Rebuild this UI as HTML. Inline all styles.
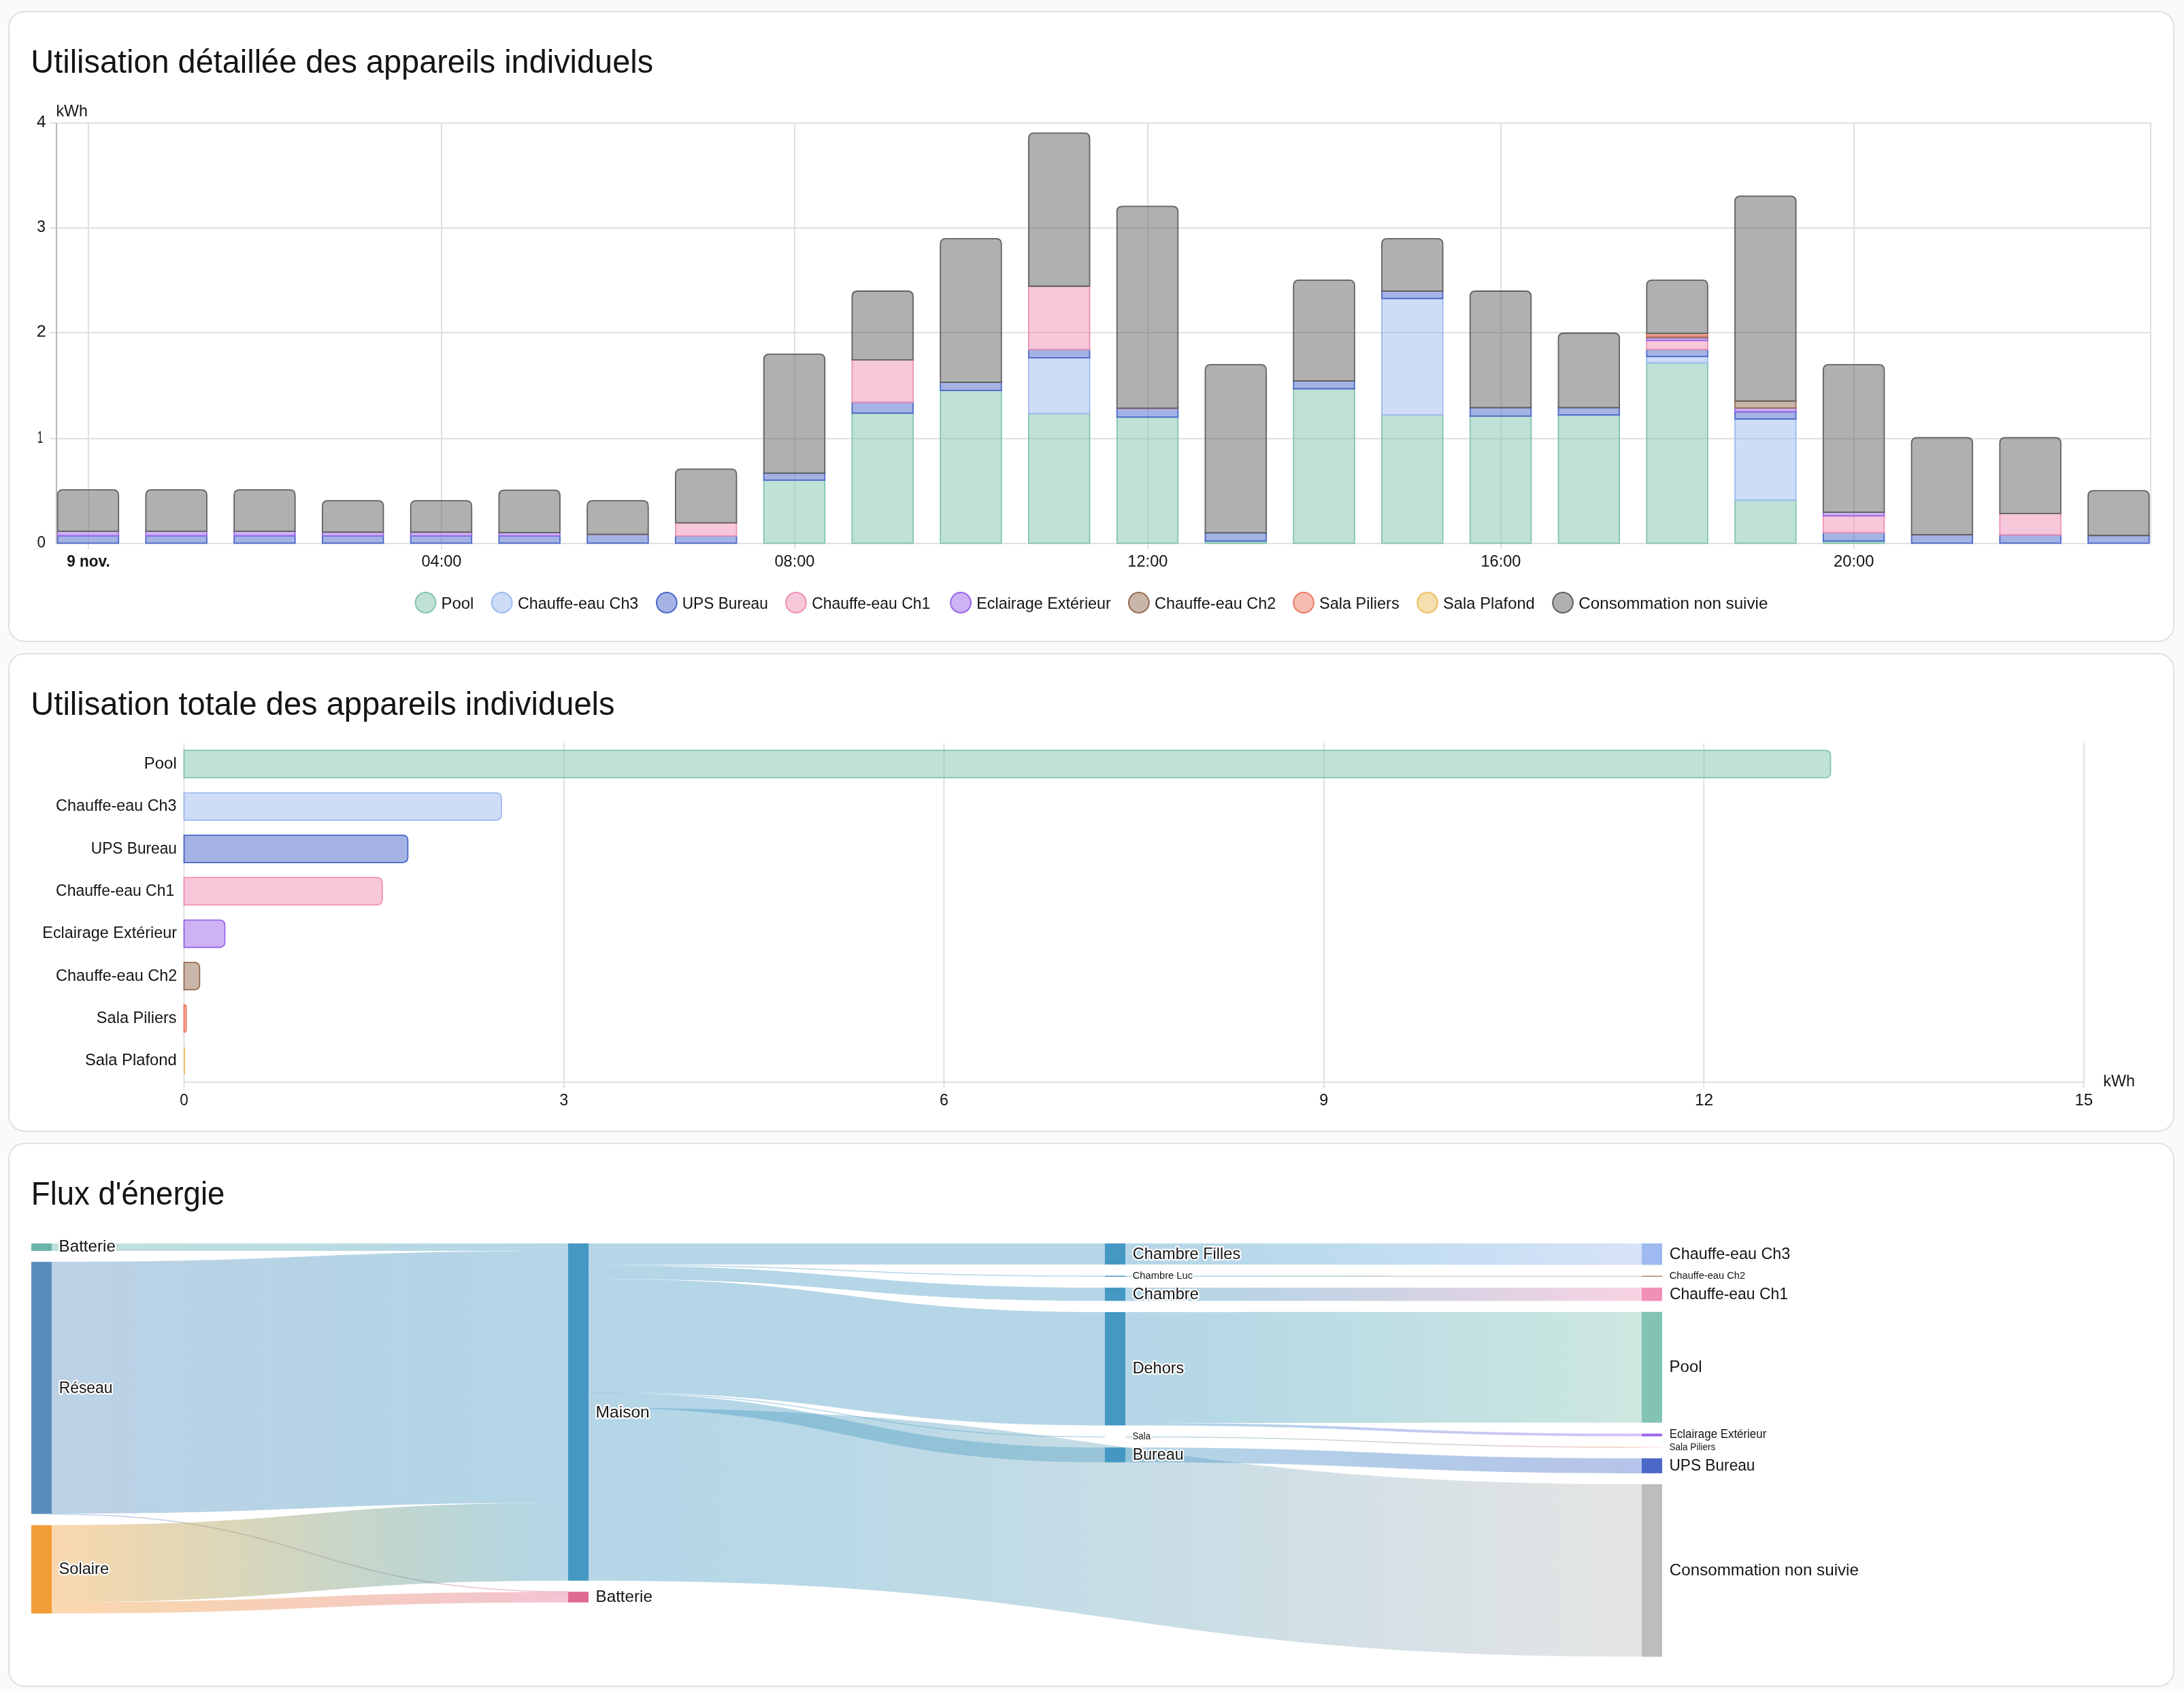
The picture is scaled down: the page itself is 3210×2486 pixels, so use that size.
<!DOCTYPE html>
<html><head><meta charset="utf-8"><title>Energy</title>
<style>html,body{margin:0;padding:0;background:#fafafa;overflow:hidden}svg{display:block;will-change:transform}</style></head>
<body><svg width="3210" height="2486" viewBox="0 0 3210 2486" font-family="'Liberation Sans', sans-serif">
<defs><linearGradient id="g1" gradientUnits="userSpaceOnUse" x1="76.00" y1="0" x2="835.00" y2="0"><stop offset="0.00" stop-color="#6ab4ac"/><stop offset="0.10" stop-color="#65b1ae"/><stop offset="0.20" stop-color="#60aeb0"/><stop offset="0.30" stop-color="#5babb2"/><stop offset="0.40" stop-color="#57a8b5"/><stop offset="0.50" stop-color="#53a6b7"/><stop offset="0.60" stop-color="#4fa3b9"/><stop offset="0.70" stop-color="#4ca0bc"/><stop offset="0.80" stop-color="#499dbe"/><stop offset="0.90" stop-color="#469ac0"/><stop offset="1.00" stop-color="#4498c3"/></linearGradient><linearGradient id="g2" gradientUnits="userSpaceOnUse" x1="76.00" y1="0" x2="835.00" y2="0"><stop offset="0.00" stop-color="#5a8dbe"/><stop offset="0.10" stop-color="#568ebe"/><stop offset="0.20" stop-color="#528fbf"/><stop offset="0.30" stop-color="#4f90bf"/><stop offset="0.40" stop-color="#4c91c0"/><stop offset="0.50" stop-color="#4992c0"/><stop offset="0.60" stop-color="#4793c1"/><stop offset="0.70" stop-color="#4694c1"/><stop offset="0.80" stop-color="#4596c2"/><stop offset="0.90" stop-color="#4497c2"/><stop offset="1.00" stop-color="#4498c3"/></linearGradient><linearGradient id="g3" gradientUnits="userSpaceOnUse" x1="76.00" y1="0" x2="835.00" y2="0"><stop offset="0.00" stop-color="#5a8dbe"/><stop offset="0.10" stop-color="#6489b9"/><stop offset="0.20" stop-color="#6f85b4"/><stop offset="0.30" stop-color="#7c81b0"/><stop offset="0.40" stop-color="#897eab"/><stop offset="0.50" stop-color="#967aa7"/><stop offset="0.60" stop-color="#a576a2"/><stop offset="0.70" stop-color="#b3739e"/><stop offset="0.80" stop-color="#c1709a"/><stop offset="0.90" stop-color="#d06d96"/><stop offset="1.00" stop-color="#df6b92"/></linearGradient><linearGradient id="g4" gradientUnits="userSpaceOnUse" x1="76.00" y1="0" x2="835.00" y2="0"><stop offset="0.00" stop-color="#f19d38"/><stop offset="0.10" stop-color="#da9c3a"/><stop offset="0.20" stop-color="#c49a41"/><stop offset="0.30" stop-color="#ae9a4c"/><stop offset="0.40" stop-color="#999959"/><stop offset="0.50" stop-color="#849869"/><stop offset="0.60" stop-color="#71987a"/><stop offset="0.70" stop-color="#60988c"/><stop offset="0.80" stop-color="#52989e"/><stop offset="0.90" stop-color="#4898b0"/><stop offset="1.00" stop-color="#4498c3"/></linearGradient><linearGradient id="g5" gradientUnits="userSpaceOnUse" x1="76.00" y1="0" x2="835.00" y2="0"><stop offset="0.00" stop-color="#f19d38"/><stop offset="0.10" stop-color="#ef983a"/><stop offset="0.20" stop-color="#ed933d"/><stop offset="0.30" stop-color="#eb8e43"/><stop offset="0.40" stop-color="#ea894c"/><stop offset="0.50" stop-color="#e88455"/><stop offset="0.60" stop-color="#e67f60"/><stop offset="0.70" stop-color="#e47a6c"/><stop offset="0.80" stop-color="#e27578"/><stop offset="0.90" stop-color="#e17085"/><stop offset="1.00" stop-color="#df6b92"/></linearGradient><linearGradient id="g6" gradientUnits="userSpaceOnUse" x1="865.00" y1="0" x2="1624.00" y2="0"><stop offset="0.00" stop-color="#4498c3"/><stop offset="0.10" stop-color="#4498c3"/><stop offset="0.20" stop-color="#4498c3"/><stop offset="0.30" stop-color="#4498c3"/><stop offset="0.40" stop-color="#4498c3"/><stop offset="0.50" stop-color="#4498c3"/><stop offset="0.60" stop-color="#4498c3"/><stop offset="0.70" stop-color="#4498c3"/><stop offset="0.80" stop-color="#4498c3"/><stop offset="0.90" stop-color="#4498c3"/><stop offset="1.00" stop-color="#4498c3"/></linearGradient><linearGradient id="g7" gradientUnits="userSpaceOnUse" x1="865.00" y1="0" x2="1624.00" y2="0"><stop offset="0.00" stop-color="#4498c3"/><stop offset="0.10" stop-color="#4498c3"/><stop offset="0.20" stop-color="#4498c3"/><stop offset="0.30" stop-color="#4498c3"/><stop offset="0.40" stop-color="#4498c3"/><stop offset="0.50" stop-color="#4498c3"/><stop offset="0.60" stop-color="#4498c3"/><stop offset="0.70" stop-color="#4498c3"/><stop offset="0.80" stop-color="#4498c3"/><stop offset="0.90" stop-color="#4498c3"/><stop offset="1.00" stop-color="#4498c3"/></linearGradient><linearGradient id="g8" gradientUnits="userSpaceOnUse" x1="865.00" y1="0" x2="1624.00" y2="0"><stop offset="0.00" stop-color="#4498c3"/><stop offset="0.10" stop-color="#4498c3"/><stop offset="0.20" stop-color="#4498c3"/><stop offset="0.30" stop-color="#4498c3"/><stop offset="0.40" stop-color="#4498c3"/><stop offset="0.50" stop-color="#4498c3"/><stop offset="0.60" stop-color="#4498c3"/><stop offset="0.70" stop-color="#4498c3"/><stop offset="0.80" stop-color="#4498c3"/><stop offset="0.90" stop-color="#4498c3"/><stop offset="1.00" stop-color="#4498c3"/></linearGradient><linearGradient id="g9" gradientUnits="userSpaceOnUse" x1="865.00" y1="0" x2="1624.00" y2="0"><stop offset="0.00" stop-color="#4498c3"/><stop offset="0.10" stop-color="#4498c3"/><stop offset="0.20" stop-color="#4498c3"/><stop offset="0.30" stop-color="#4498c3"/><stop offset="0.40" stop-color="#4498c3"/><stop offset="0.50" stop-color="#4498c3"/><stop offset="0.60" stop-color="#4498c3"/><stop offset="0.70" stop-color="#4498c3"/><stop offset="0.80" stop-color="#4498c3"/><stop offset="0.90" stop-color="#4498c3"/><stop offset="1.00" stop-color="#4498c3"/></linearGradient><linearGradient id="g10" gradientUnits="userSpaceOnUse" x1="865.00" y1="0" x2="1624.00" y2="0"><stop offset="0.00" stop-color="#4498c3"/><stop offset="0.10" stop-color="#4498c3"/><stop offset="0.20" stop-color="#4498c3"/><stop offset="0.30" stop-color="#4498c3"/><stop offset="0.40" stop-color="#4498c3"/><stop offset="0.50" stop-color="#4498c3"/><stop offset="0.60" stop-color="#4498c3"/><stop offset="0.70" stop-color="#4498c3"/><stop offset="0.80" stop-color="#4498c3"/><stop offset="0.90" stop-color="#4498c3"/><stop offset="1.00" stop-color="#4498c3"/></linearGradient><linearGradient id="g11" gradientUnits="userSpaceOnUse" x1="865.00" y1="0" x2="1624.00" y2="0"><stop offset="0.00" stop-color="#4498c3"/><stop offset="0.10" stop-color="#4498c3"/><stop offset="0.20" stop-color="#4498c3"/><stop offset="0.30" stop-color="#4498c3"/><stop offset="0.40" stop-color="#4498c3"/><stop offset="0.50" stop-color="#4498c3"/><stop offset="0.60" stop-color="#4498c3"/><stop offset="0.70" stop-color="#4498c3"/><stop offset="0.80" stop-color="#4498c3"/><stop offset="0.90" stop-color="#4498c3"/><stop offset="1.00" stop-color="#4498c3"/></linearGradient><linearGradient id="g12" gradientUnits="userSpaceOnUse" x1="865.00" y1="0" x2="2413.00" y2="0"><stop offset="0.00" stop-color="#4498c3"/><stop offset="0.10" stop-color="#489bc2"/><stop offset="0.20" stop-color="#4f9fc1"/><stop offset="0.30" stop-color="#59a2c1"/><stop offset="0.40" stop-color="#64a6c0"/><stop offset="0.50" stop-color="#71aabf"/><stop offset="0.60" stop-color="#7fadbf"/><stop offset="0.70" stop-color="#8eb1be"/><stop offset="0.80" stop-color="#9db5be"/><stop offset="0.90" stop-color="#adb9bd"/><stop offset="1.00" stop-color="#bdbdbd"/></linearGradient><linearGradient id="g13" gradientUnits="userSpaceOnUse" x1="1654.00" y1="0" x2="2413.00" y2="0"><stop offset="0.00" stop-color="#4498c3"/><stop offset="0.10" stop-color="#489bc7"/><stop offset="0.20" stop-color="#4d9ecc"/><stop offset="0.30" stop-color="#54a2d0"/><stop offset="0.40" stop-color="#5ca5d5"/><stop offset="0.50" stop-color="#65a8d9"/><stop offset="0.60" stop-color="#6facde"/><stop offset="0.70" stop-color="#7aafe2"/><stop offset="0.80" stop-color="#86b3e7"/><stop offset="0.90" stop-color="#92b6ec"/><stop offset="1.00" stop-color="#9ebaf0"/></linearGradient><linearGradient id="g14" gradientUnits="userSpaceOnUse" x1="1654.00" y1="0" x2="2413.00" y2="0"><stop offset="0.00" stop-color="#4498c3"/><stop offset="0.10" stop-color="#4493b7"/><stop offset="0.20" stop-color="#468fac"/><stop offset="0.30" stop-color="#4b8aa0"/><stop offset="0.40" stop-color="#518695"/><stop offset="0.50" stop-color="#5a8189"/><stop offset="0.60" stop-color="#647d7e"/><stop offset="0.70" stop-color="#6f7973"/><stop offset="0.80" stop-color="#7b7568"/><stop offset="0.90" stop-color="#88715d"/><stop offset="1.00" stop-color="#956d53"/></linearGradient><linearGradient id="g15" gradientUnits="userSpaceOnUse" x1="1654.00" y1="0" x2="2413.00" y2="0"><stop offset="0.00" stop-color="#4498c3"/><stop offset="0.10" stop-color="#4896c1"/><stop offset="0.20" stop-color="#5195c0"/><stop offset="0.30" stop-color="#5f93be"/><stop offset="0.40" stop-color="#7092bd"/><stop offset="0.50" stop-color="#8391bb"/><stop offset="0.60" stop-color="#9891ba"/><stop offset="0.70" stop-color="#ad90b9"/><stop offset="0.80" stop-color="#c390b8"/><stop offset="0.90" stop-color="#d990b7"/><stop offset="1.00" stop-color="#f090b6"/></linearGradient><linearGradient id="g16" gradientUnits="userSpaceOnUse" x1="1654.00" y1="0" x2="2413.00" y2="0"><stop offset="0.00" stop-color="#4498c3"/><stop offset="0.10" stop-color="#479cc1"/><stop offset="0.20" stop-color="#4ba0bf"/><stop offset="0.30" stop-color="#50a4bd"/><stop offset="0.40" stop-color="#56a9bb"/><stop offset="0.50" stop-color="#5cadb9"/><stop offset="0.60" stop-color="#63b1b8"/><stop offset="0.70" stop-color="#6ab6b6"/><stop offset="0.80" stop-color="#72bab4"/><stop offset="0.90" stop-color="#7abeb2"/><stop offset="1.00" stop-color="#82c3b1"/></linearGradient><linearGradient id="g17" gradientUnits="userSpaceOnUse" x1="1654.00" y1="0" x2="2413.00" y2="0"><stop offset="0.00" stop-color="#4498c3"/><stop offset="0.10" stop-color="#4492c6"/><stop offset="0.20" stop-color="#468dca"/><stop offset="0.30" stop-color="#4b88ce"/><stop offset="0.40" stop-color="#5282d2"/><stop offset="0.50" stop-color="#5c7dd6"/><stop offset="0.60" stop-color="#6778da"/><stop offset="0.70" stop-color="#7373de"/><stop offset="0.80" stop-color="#806fe2"/><stop offset="0.90" stop-color="#8d6ae6"/><stop offset="1.00" stop-color="#9b66ea"/></linearGradient><linearGradient id="g18" gradientUnits="userSpaceOnUse" x1="1654.00" y1="0" x2="2413.00" y2="0"><stop offset="0.00" stop-color="#4498c3"/><stop offset="0.10" stop-color="#4794b8"/><stop offset="0.20" stop-color="#4f90ae"/><stop offset="0.30" stop-color="#5c8ca4"/><stop offset="0.40" stop-color="#6d899a"/><stop offset="0.50" stop-color="#818690"/><stop offset="0.60" stop-color="#958387"/><stop offset="0.70" stop-color="#ab807d"/><stop offset="0.80" stop-color="#c17e74"/><stop offset="0.90" stop-color="#d77c6c"/><stop offset="1.00" stop-color="#ee7a64"/></linearGradient><linearGradient id="g19" gradientUnits="userSpaceOnUse" x1="1654.00" y1="0" x2="2413.00" y2="0"><stop offset="0.00" stop-color="#4498c3"/><stop offset="0.10" stop-color="#4293c3"/><stop offset="0.20" stop-color="#418ec4"/><stop offset="0.30" stop-color="#4089c4"/><stop offset="0.40" stop-color="#4084c5"/><stop offset="0.50" stop-color="#4080c6"/><stop offset="0.60" stop-color="#417bc6"/><stop offset="0.70" stop-color="#4376c7"/><stop offset="0.80" stop-color="#4571c8"/><stop offset="0.90" stop-color="#486dc9"/><stop offset="1.00" stop-color="#4b68c9"/></linearGradient></defs>
<rect x="0" y="0" width="3210" height="2486" fill="#fafafa"/>
<rect x="13" y="17" width="3182" height="926" rx="23" ry="23" fill="#ffffff" stroke="#e0e0e0" stroke-width="2"/>
<rect x="13" y="961" width="3182" height="702" rx="23" ry="23" fill="#ffffff" stroke="#e0e0e0" stroke-width="2"/>
<rect x="13" y="1681" width="3182" height="798" rx="23" ry="23" fill="#ffffff" stroke="#e0e0e0" stroke-width="2"/>
<text x="45.37" y="106.60" font-size="48.96" textLength="914.75" lengthAdjust="spacingAndGlyphs" fill="#141414">Utilisation détaillée des appareils individuels</text>
<text x="45.35" y="1050.80" font-size="48.96" textLength="858.23" lengthAdjust="spacingAndGlyphs" fill="#141414">Utilisation totale des appareils individuels</text>
<text x="45.84" y="1770.90" font-size="48.96" textLength="284.50" lengthAdjust="spacingAndGlyphs" fill="#141414">Flux d&#39;énergie</text>
<line x1="73.50" y1="645.00" x2="3161.00" y2="645.00" stroke="#e0e0e0" stroke-width="2"/>
<line x1="73.50" y1="489.00" x2="3161.00" y2="489.00" stroke="#e0e0e0" stroke-width="2"/>
<line x1="73.50" y1="335.00" x2="3161.00" y2="335.00" stroke="#e0e0e0" stroke-width="2"/>
<line x1="73.50" y1="181.00" x2="3161.00" y2="181.00" stroke="#e0e0e0" stroke-width="2"/>
<line x1="83.00" y1="799.00" x2="3161.00" y2="799.00" stroke="#e0e0e0" stroke-width="2"/>
<line x1="129.90" y1="181.00" x2="129.90" y2="807.50" stroke="#e0e0e0" stroke-width="2"/>
<line x1="648.94" y1="181.00" x2="648.94" y2="807.50" stroke="#e0e0e0" stroke-width="2"/>
<line x1="1167.98" y1="181.00" x2="1167.98" y2="807.50" stroke="#e0e0e0" stroke-width="2"/>
<line x1="1687.02" y1="181.00" x2="1687.02" y2="807.50" stroke="#e0e0e0" stroke-width="2"/>
<line x1="2206.06" y1="181.00" x2="2206.06" y2="807.50" stroke="#e0e0e0" stroke-width="2"/>
<line x1="2725.10" y1="181.00" x2="2725.10" y2="807.50" stroke="#e0e0e0" stroke-width="2"/>
<line x1="3161.00" y1="181.00" x2="3161.00" y2="799.00" stroke="#e0e0e0" stroke-width="2"/>
<rect x="84.60" y="787.69" width="89.60" height="10.81" fill="#4b68c9" fill-opacity="0.5" stroke="#4b68c9" stroke-width="1.8"/>
<rect x="84.60" y="781.06" width="89.60" height="6.64" fill="#9b66ea" fill-opacity="0.5" stroke="#9b66ea" stroke-width="1.8"/>
<path d="M84.60,781.06 L84.60,728.08 Q84.60,720.08 92.60,720.08 L166.20,720.08 Q174.20,720.08 174.20,728.08 L174.20,781.06 Z" fill="#616161" fill-opacity="0.5" stroke="#616161" stroke-width="1.8"/>
<rect x="214.36" y="787.69" width="89.60" height="10.81" fill="#4b68c9" fill-opacity="0.5" stroke="#4b68c9" stroke-width="1.8"/>
<rect x="214.36" y="781.06" width="89.60" height="6.64" fill="#9b66ea" fill-opacity="0.5" stroke="#9b66ea" stroke-width="1.8"/>
<path d="M214.36,781.06 L214.36,728.08 Q214.36,720.08 222.36,720.08 L295.96,720.08 Q303.96,720.08 303.96,728.08 L303.96,781.06 Z" fill="#616161" fill-opacity="0.5" stroke="#616161" stroke-width="1.8"/>
<rect x="344.12" y="787.69" width="89.60" height="10.81" fill="#4b68c9" fill-opacity="0.5" stroke="#4b68c9" stroke-width="1.8"/>
<rect x="344.12" y="781.06" width="89.60" height="6.64" fill="#9b66ea" fill-opacity="0.5" stroke="#9b66ea" stroke-width="1.8"/>
<path d="M344.12,781.06 L344.12,728.08 Q344.12,720.08 352.12,720.08 L425.72,720.08 Q433.72,720.08 433.72,728.08 L433.72,781.06 Z" fill="#616161" fill-opacity="0.5" stroke="#616161" stroke-width="1.8"/>
<rect x="473.88" y="787.85" width="89.60" height="10.65" fill="#4b68c9" fill-opacity="0.5" stroke="#4b68c9" stroke-width="1.8"/>
<rect x="473.88" y="782.29" width="89.60" height="5.56" fill="#9b66ea" fill-opacity="0.5" stroke="#9b66ea" stroke-width="1.8"/>
<path d="M473.88,782.29 L473.88,744.13 Q473.88,736.13 481.88,736.13 L555.48,736.13 Q563.48,736.13 563.48,744.13 L563.48,782.29 Z" fill="#616161" fill-opacity="0.5" stroke="#616161" stroke-width="1.8"/>
<rect x="603.64" y="787.85" width="89.60" height="10.65" fill="#4b68c9" fill-opacity="0.5" stroke="#4b68c9" stroke-width="1.8"/>
<rect x="603.64" y="782.29" width="89.60" height="5.56" fill="#9b66ea" fill-opacity="0.5" stroke="#9b66ea" stroke-width="1.8"/>
<path d="M603.64,782.29 L603.64,744.13 Q603.64,736.13 611.64,736.13 L685.24,736.13 Q693.24,736.13 693.24,744.13 L693.24,782.29 Z" fill="#616161" fill-opacity="0.5" stroke="#616161" stroke-width="1.8"/>
<rect x="733.40" y="787.85" width="89.60" height="10.65" fill="#4b68c9" fill-opacity="0.5" stroke="#4b68c9" stroke-width="1.8"/>
<rect x="733.40" y="783.06" width="89.60" height="4.79" fill="#9b66ea" fill-opacity="0.5" stroke="#9b66ea" stroke-width="1.8"/>
<path d="M733.40,783.06 L733.40,728.69 Q733.40,720.69 741.40,720.69 L815.00,720.69 Q823.00,720.69 823.00,728.69 L823.00,783.06 Z" fill="#616161" fill-opacity="0.5" stroke="#616161" stroke-width="1.8"/>
<rect x="863.16" y="785.84" width="89.60" height="12.66" fill="#4b68c9" fill-opacity="0.5" stroke="#4b68c9" stroke-width="1.8"/>
<rect x="863.16" y="785.53" width="89.60" height="0.31" fill="#f090b6" fill-opacity="0.5" stroke="#f090b6" stroke-width="1.8"/>
<path d="M863.16,785.53 L863.16,744.13 Q863.16,736.13 871.16,736.13 L944.76,736.13 Q952.76,736.13 952.76,744.13 L952.76,785.53 Z" fill="#616161" fill-opacity="0.5" stroke="#616161" stroke-width="1.8"/>
<rect x="992.92" y="787.85" width="89.60" height="10.65" fill="#4b68c9" fill-opacity="0.5" stroke="#4b68c9" stroke-width="1.8"/>
<rect x="992.92" y="768.71" width="89.60" height="19.14" fill="#f090b6" fill-opacity="0.5" stroke="#f090b6" stroke-width="1.8"/>
<path d="M992.92,768.71 L992.92,697.67 Q992.92,689.67 1000.92,689.67 L1074.52,689.67 Q1082.52,689.67 1082.52,697.67 L1082.52,768.71 Z" fill="#616161" fill-opacity="0.5" stroke="#616161" stroke-width="1.8"/>
<rect x="1122.68" y="705.88" width="89.60" height="92.62" fill="#82c3b1" fill-opacity="0.5" stroke="#82c3b1" stroke-width="1.8"/>
<rect x="1122.68" y="695.53" width="89.60" height="10.34" fill="#4b68c9" fill-opacity="0.5" stroke="#4b68c9" stroke-width="1.8"/>
<path d="M1122.68,695.53 L1122.68,528.62 Q1122.68,520.62 1130.68,520.62 L1204.28,520.62 Q1212.28,520.62 1212.28,528.62 L1212.28,695.53 Z" fill="#616161" fill-opacity="0.5" stroke="#616161" stroke-width="1.8"/>
<rect x="1252.44" y="607.38" width="89.60" height="191.12" fill="#82c3b1" fill-opacity="0.5" stroke="#82c3b1" stroke-width="1.8"/>
<rect x="1252.44" y="591.48" width="89.60" height="15.90" fill="#4b68c9" fill-opacity="0.5" stroke="#4b68c9" stroke-width="1.8"/>
<rect x="1252.44" y="529.12" width="89.60" height="62.37" fill="#f090b6" fill-opacity="0.5" stroke="#f090b6" stroke-width="1.8"/>
<path d="M1252.44,529.12 L1252.44,436.00 Q1252.44,428.00 1260.44,428.00 L1334.04,428.00 Q1342.04,428.00 1342.04,436.00 L1342.04,529.12 Z" fill="#616161" fill-opacity="0.5" stroke="#616161" stroke-width="1.8"/>
<rect x="1382.20" y="574.04" width="89.60" height="224.46" fill="#82c3b1" fill-opacity="0.5" stroke="#82c3b1" stroke-width="1.8"/>
<rect x="1382.20" y="562.00" width="89.60" height="12.04" fill="#4b68c9" fill-opacity="0.5" stroke="#4b68c9" stroke-width="1.8"/>
<path d="M1382.20,562.00 L1382.20,358.81 Q1382.20,350.81 1390.20,350.81 L1463.80,350.81 Q1471.80,350.81 1471.80,358.81 L1471.80,562.00 Z" fill="#616161" fill-opacity="0.5" stroke="#616161" stroke-width="1.8"/>
<rect x="1511.96" y="608.16" width="89.60" height="190.34" fill="#82c3b1" fill-opacity="0.5" stroke="#82c3b1" stroke-width="1.8"/>
<rect x="1511.96" y="526.03" width="89.60" height="82.13" fill="#9ebaf0" fill-opacity="0.5" stroke="#9ebaf0" stroke-width="1.8"/>
<rect x="1511.96" y="513.83" width="89.60" height="12.20" fill="#4b68c9" fill-opacity="0.5" stroke="#4b68c9" stroke-width="1.8"/>
<rect x="1511.96" y="420.74" width="89.60" height="93.09" fill="#f090b6" fill-opacity="0.5" stroke="#f090b6" stroke-width="1.8"/>
<path d="M1511.96,420.74 L1511.96,203.67 Q1511.96,195.67 1519.96,195.67 L1593.56,195.67 Q1601.56,195.67 1601.56,203.67 L1601.56,420.74 Z" fill="#616161" fill-opacity="0.5" stroke="#616161" stroke-width="1.8"/>
<rect x="1641.72" y="613.25" width="89.60" height="185.25" fill="#82c3b1" fill-opacity="0.5" stroke="#82c3b1" stroke-width="1.8"/>
<rect x="1641.72" y="600.59" width="89.60" height="12.66" fill="#4b68c9" fill-opacity="0.5" stroke="#4b68c9" stroke-width="1.8"/>
<rect x="1641.72" y="600.13" width="89.60" height="0.46" fill="#f090b6" fill-opacity="0.5" stroke="#f090b6" stroke-width="1.8"/>
<path d="M1641.72,600.13 L1641.72,311.42 Q1641.72,303.42 1649.72,303.42 L1723.32,303.42 Q1731.32,303.42 1731.32,311.42 L1731.32,600.13 Z" fill="#616161" fill-opacity="0.5" stroke="#616161" stroke-width="1.8"/>
<rect x="1771.48" y="795.41" width="89.60" height="3.09" fill="#82c3b1" fill-opacity="0.5" stroke="#82c3b1" stroke-width="1.8"/>
<rect x="1771.48" y="783.37" width="89.60" height="12.04" fill="#4b68c9" fill-opacity="0.5" stroke="#4b68c9" stroke-width="1.8"/>
<path d="M1771.48,783.37 L1771.48,544.06 Q1771.48,536.06 1779.48,536.06 L1853.08,536.06 Q1861.08,536.06 1861.08,544.06 L1861.08,783.37 Z" fill="#616161" fill-opacity="0.5" stroke="#616161" stroke-width="1.8"/>
<rect x="1901.24" y="571.57" width="89.60" height="226.93" fill="#82c3b1" fill-opacity="0.5" stroke="#82c3b1" stroke-width="1.8"/>
<rect x="1901.24" y="559.99" width="89.60" height="11.58" fill="#4b68c9" fill-opacity="0.5" stroke="#4b68c9" stroke-width="1.8"/>
<path d="M1901.24,559.99 L1901.24,419.79 Q1901.24,411.79 1909.24,411.79 L1982.84,411.79 Q1990.84,411.79 1990.84,419.79 L1990.84,559.99 Z" fill="#616161" fill-opacity="0.5" stroke="#616161" stroke-width="1.8"/>
<rect x="2031.00" y="610.16" width="89.60" height="188.34" fill="#82c3b1" fill-opacity="0.5" stroke="#82c3b1" stroke-width="1.8"/>
<rect x="2031.00" y="438.81" width="89.60" height="171.36" fill="#9ebaf0" fill-opacity="0.5" stroke="#9ebaf0" stroke-width="1.8"/>
<rect x="2031.00" y="428.00" width="89.60" height="10.81" fill="#4b68c9" fill-opacity="0.5" stroke="#4b68c9" stroke-width="1.8"/>
<path d="M2031.00,428.00 L2031.00,358.81 Q2031.00,350.81 2039.00,350.81 L2112.60,350.81 Q2120.60,350.81 2120.60,358.81 L2120.60,428.00 Z" fill="#616161" fill-opacity="0.5" stroke="#616161" stroke-width="1.8"/>
<rect x="2160.76" y="611.71" width="89.60" height="186.79" fill="#82c3b1" fill-opacity="0.5" stroke="#82c3b1" stroke-width="1.8"/>
<rect x="2160.76" y="599.36" width="89.60" height="12.35" fill="#4b68c9" fill-opacity="0.5" stroke="#4b68c9" stroke-width="1.8"/>
<path d="M2160.76,599.36 L2160.76,436.00 Q2160.76,428.00 2168.76,428.00 L2242.36,428.00 Q2250.36,428.00 2250.36,436.00 L2250.36,599.36 Z" fill="#616161" fill-opacity="0.5" stroke="#616161" stroke-width="1.8"/>
<rect x="2290.52" y="610.16" width="89.60" height="188.34" fill="#82c3b1" fill-opacity="0.5" stroke="#82c3b1" stroke-width="1.8"/>
<rect x="2290.52" y="599.36" width="89.60" height="10.81" fill="#4b68c9" fill-opacity="0.5" stroke="#4b68c9" stroke-width="1.8"/>
<path d="M2290.52,599.36 L2290.52,497.75 Q2290.52,489.75 2298.52,489.75 L2372.12,489.75 Q2380.12,489.75 2380.12,497.75 L2380.12,599.36 Z" fill="#616161" fill-opacity="0.5" stroke="#616161" stroke-width="1.8"/>
<rect x="2420.28" y="533.59" width="89.60" height="264.91" fill="#82c3b1" fill-opacity="0.5" stroke="#82c3b1" stroke-width="1.8"/>
<rect x="2420.28" y="524.18" width="89.60" height="9.42" fill="#9ebaf0" fill-opacity="0.5" stroke="#9ebaf0" stroke-width="1.8"/>
<rect x="2420.28" y="513.83" width="89.60" height="10.34" fill="#4b68c9" fill-opacity="0.5" stroke="#4b68c9" stroke-width="1.8"/>
<rect x="2420.28" y="500.56" width="89.60" height="13.28" fill="#f090b6" fill-opacity="0.5" stroke="#f090b6" stroke-width="1.8"/>
<rect x="2420.28" y="496.54" width="89.60" height="4.01" fill="#9b66ea" fill-opacity="0.5" stroke="#9b66ea" stroke-width="1.8"/>
<rect x="2420.28" y="493.92" width="89.60" height="2.62" fill="#956d53" fill-opacity="0.5" stroke="#956d53" stroke-width="1.8"/>
<rect x="2420.28" y="490.37" width="89.60" height="3.55" fill="#ee7a64" fill-opacity="0.5" stroke="#ee7a64" stroke-width="1.8"/>
<path d="M2420.28,490.37 L2420.28,419.79 Q2420.28,411.79 2428.28,411.79 L2501.88,411.79 Q2509.88,411.79 2509.88,419.79 L2509.88,490.37 Z" fill="#616161" fill-opacity="0.5" stroke="#616161" stroke-width="1.8"/>
<rect x="2550.04" y="735.36" width="89.60" height="63.14" fill="#82c3b1" fill-opacity="0.5" stroke="#82c3b1" stroke-width="1.8"/>
<rect x="2550.04" y="616.03" width="89.60" height="119.33" fill="#9ebaf0" fill-opacity="0.5" stroke="#9ebaf0" stroke-width="1.8"/>
<rect x="2550.04" y="605.53" width="89.60" height="10.50" fill="#4b68c9" fill-opacity="0.5" stroke="#4b68c9" stroke-width="1.8"/>
<rect x="2550.04" y="599.82" width="89.60" height="5.71" fill="#9b66ea" fill-opacity="0.5" stroke="#9b66ea" stroke-width="1.8"/>
<rect x="2550.04" y="589.63" width="89.60" height="10.19" fill="#956d53" fill-opacity="0.5" stroke="#956d53" stroke-width="1.8"/>
<path d="M2550.04,589.63 L2550.04,296.29 Q2550.04,288.29 2558.04,288.29 L2631.64,288.29 Q2639.64,288.29 2639.64,296.29 L2639.64,589.63 Z" fill="#616161" fill-opacity="0.5" stroke="#616161" stroke-width="1.8"/>
<rect x="2679.80" y="795.41" width="89.60" height="3.09" fill="#82c3b1" fill-opacity="0.5" stroke="#82c3b1" stroke-width="1.8"/>
<rect x="2679.80" y="783.06" width="89.60" height="12.35" fill="#4b68c9" fill-opacity="0.5" stroke="#4b68c9" stroke-width="1.8"/>
<rect x="2679.80" y="758.36" width="89.60" height="24.70" fill="#f090b6" fill-opacity="0.5" stroke="#f090b6" stroke-width="1.8"/>
<rect x="2679.80" y="753.11" width="89.60" height="5.25" fill="#9b66ea" fill-opacity="0.5" stroke="#9b66ea" stroke-width="1.8"/>
<path d="M2679.80,753.11 L2679.80,544.06 Q2679.80,536.06 2687.80,536.06 L2761.40,536.06 Q2769.40,536.06 2769.40,544.06 L2769.40,753.11 Z" fill="#616161" fill-opacity="0.5" stroke="#616161" stroke-width="1.8"/>
<rect x="2809.56" y="786.46" width="89.60" height="12.04" fill="#4b68c9" fill-opacity="0.5" stroke="#4b68c9" stroke-width="1.8"/>
<rect x="2809.56" y="786.00" width="89.60" height="0.46" fill="#f090b6" fill-opacity="0.5" stroke="#f090b6" stroke-width="1.8"/>
<path d="M2809.56,786.00 L2809.56,651.35 Q2809.56,643.35 2817.56,643.35 L2891.16,643.35 Q2899.16,643.35 2899.16,651.35 L2899.16,786.00 Z" fill="#616161" fill-opacity="0.5" stroke="#616161" stroke-width="1.8"/>
<rect x="2939.32" y="786.46" width="89.60" height="12.04" fill="#4b68c9" fill-opacity="0.5" stroke="#4b68c9" stroke-width="1.8"/>
<rect x="2939.32" y="754.97" width="89.60" height="31.49" fill="#f090b6" fill-opacity="0.5" stroke="#f090b6" stroke-width="1.8"/>
<path d="M2939.32,754.97 L2939.32,651.35 Q2939.32,643.35 2947.32,643.35 L3020.92,643.35 Q3028.92,643.35 3028.92,651.35 L3028.92,754.97 Z" fill="#616161" fill-opacity="0.5" stroke="#616161" stroke-width="1.8"/>
<rect x="3069.08" y="787.23" width="89.60" height="11.27" fill="#4b68c9" fill-opacity="0.5" stroke="#4b68c9" stroke-width="1.8"/>
<path d="M3069.08,787.23 L3069.08,729.31 Q3069.08,721.31 3077.08,721.31 L3150.68,721.31 Q3158.68,721.31 3158.68,729.31 L3158.68,787.23 Z" fill="#616161" fill-opacity="0.5" stroke="#616161" stroke-width="1.8"/>
<line x1="83.00" y1="181.00" x2="83.00" y2="799.50" stroke="#b9b9b9" stroke-width="2"/>
<text x="54.49" y="805.00" font-size="24.48" textLength="12.51" lengthAdjust="spacingAndGlyphs" fill="#141414">0</text>
<text x="54.86" y="651.00" font-size="24.48" textLength="8.41" lengthAdjust="spacingAndGlyphs" fill="#141414">1</text>
<text x="53.83" y="495.00" font-size="24.48" textLength="14.08" lengthAdjust="spacingAndGlyphs" fill="#141414">2</text>
<text x="54.30" y="341.00" font-size="24.48" textLength="12.65" lengthAdjust="spacingAndGlyphs" fill="#141414">3</text>
<text x="54.06" y="187.00" font-size="24.48" textLength="13.55" lengthAdjust="spacingAndGlyphs" fill="#141414">4</text>
<text x="82.43" y="170.70" font-size="24.48" textLength="46.52" lengthAdjust="spacingAndGlyphs" fill="#141414">kWh</text>
<text x="98.26" y="833.00" font-size="24.48" textLength="63.40" lengthAdjust="spacingAndGlyphs" font-weight="bold" fill="#141414">9 nov.</text>
<text x="619.50" y="833.00" font-size="24.48" textLength="58.82" lengthAdjust="spacingAndGlyphs" fill="#141414">04:00</text>
<text x="1138.54" y="833.00" font-size="24.48" textLength="58.82" lengthAdjust="spacingAndGlyphs" fill="#141414">08:00</text>
<text x="1657.35" y="833.00" font-size="24.48" textLength="59.06" lengthAdjust="spacingAndGlyphs" fill="#141414">12:00</text>
<text x="2176.39" y="833.00" font-size="24.48" textLength="59.06" lengthAdjust="spacingAndGlyphs" fill="#141414">16:00</text>
<text x="2695.11" y="833.00" font-size="24.48" textLength="59.38" lengthAdjust="spacingAndGlyphs" fill="#141414">20:00</text>
<circle cx="625.50" cy="886.0" r="14.9" fill="#82c3b1" fill-opacity="0.5" stroke="#82c3b1" stroke-width="2"/>
<text x="648.51" y="894.70" font-size="24.48" textLength="47.91" lengthAdjust="spacingAndGlyphs" fill="#141414">Pool</text>
<circle cx="737.70" cy="886.0" r="14.9" fill="#9ebaf0" fill-opacity="0.5" stroke="#9ebaf0" stroke-width="2"/>
<text x="760.97" y="894.70" font-size="24.48" textLength="177.38" lengthAdjust="spacingAndGlyphs" fill="#141414">Chauffe-eau Ch3</text>
<circle cx="979.89" cy="886.0" r="14.9" fill="#4b68c9" fill-opacity="0.5" stroke="#4b68c9" stroke-width="2"/>
<text x="1002.75" y="894.70" font-size="24.48" textLength="126.02" lengthAdjust="spacingAndGlyphs" fill="#141414">UPS Bureau</text>
<circle cx="1169.90" cy="886.0" r="14.9" fill="#f090b6" fill-opacity="0.5" stroke="#f090b6" stroke-width="2"/>
<text x="1193.19" y="894.70" font-size="24.48" textLength="174.03" lengthAdjust="spacingAndGlyphs" fill="#141414">Chauffe-eau Ch1</text>
<circle cx="1412.08" cy="886.0" r="14.9" fill="#9b66ea" fill-opacity="0.5" stroke="#9b66ea" stroke-width="2"/>
<text x="1435.13" y="894.70" font-size="24.48" textLength="197.79" lengthAdjust="spacingAndGlyphs" fill="#141414">Eclairage Extérieur</text>
<circle cx="1673.85" cy="886.0" r="14.9" fill="#956d53" fill-opacity="0.5" stroke="#956d53" stroke-width="2"/>
<text x="1697.12" y="894.70" font-size="24.48" textLength="178.23" lengthAdjust="spacingAndGlyphs" fill="#141414">Chauffe-eau Ch2</text>
<circle cx="1916.04" cy="886.0" r="14.9" fill="#ee7a64" fill-opacity="0.5" stroke="#ee7a64" stroke-width="2"/>
<text x="1938.94" y="894.70" font-size="24.48" textLength="117.79" lengthAdjust="spacingAndGlyphs" fill="#141414">Sala Piliers</text>
<circle cx="2098.08" cy="886.0" r="14.9" fill="#ebbf5f" fill-opacity="0.5" stroke="#ebbf5f" stroke-width="2"/>
<text x="2120.97" y="894.70" font-size="24.48" textLength="134.88" lengthAdjust="spacingAndGlyphs" fill="#141414">Sala Plafond</text>
<circle cx="2297.08" cy="886.0" r="14.9" fill="#616161" fill-opacity="0.5" stroke="#616161" stroke-width="2"/>
<text x="2320.31" y="894.70" font-size="24.48" textLength="278.08" lengthAdjust="spacingAndGlyphs" fill="#141414">Consommation non suivie</text>
<line x1="828.95" y1="1092.30" x2="828.95" y2="1599.50" stroke="#e0e0e0" stroke-width="2"/>
<line x1="1387.40" y1="1092.30" x2="1387.40" y2="1599.50" stroke="#e0e0e0" stroke-width="2"/>
<line x1="1945.85" y1="1092.30" x2="1945.85" y2="1599.50" stroke="#e0e0e0" stroke-width="2"/>
<line x1="2504.30" y1="1092.30" x2="2504.30" y2="1599.50" stroke="#e0e0e0" stroke-width="2"/>
<line x1="3062.75" y1="1092.30" x2="3062.75" y2="1599.50" stroke="#e0e0e0" stroke-width="2"/>
<line x1="270.50" y1="1591.00" x2="3062.75" y2="1591.00" stroke="#e0e0e0" stroke-width="2"/>
<line x1="270.50" y1="1092.30" x2="270.50" y2="1599.50" stroke="#e0e0e0" stroke-width="2"/>
<path d="M270.50,1103.20 L2682.45,1103.20 Q2690.45,1103.20 2690.45,1111.20 L2690.45,1135.40 Q2690.45,1143.40 2682.45,1143.40 L270.50,1143.40 Z" fill="#82c3b1" fill-opacity="0.5" stroke="#82c3b1" stroke-width="1.8"/>
<text x="211.81" y="1129.90" font-size="24.48" textLength="47.91" lengthAdjust="spacingAndGlyphs" fill="#141414">Pool</text>
<path d="M270.50,1165.54 L728.99,1165.54 Q736.99,1165.54 736.99,1173.54 L736.99,1197.74 Q736.99,1205.74 728.99,1205.74 L270.50,1205.74 Z" fill="#9ebaf0" fill-opacity="0.5" stroke="#9ebaf0" stroke-width="1.8"/>
<text x="82.09" y="1192.24" font-size="24.48" textLength="177.38" lengthAdjust="spacingAndGlyphs" fill="#141414">Chauffe-eau Ch3</text>
<path d="M270.50,1227.88 L591.43,1227.88 Q599.43,1227.88 599.43,1235.88 L599.43,1260.08 Q599.43,1268.08 591.43,1268.08 L270.50,1268.08 Z" fill="#4b68c9" fill-opacity="0.5" stroke="#4b68c9" stroke-width="1.8"/>
<text x="133.85" y="1254.57" font-size="24.48" textLength="126.02" lengthAdjust="spacingAndGlyphs" fill="#141414">UPS Bureau</text>
<path d="M270.50,1290.21 L553.82,1290.21 Q561.82,1290.21 561.82,1298.21 L561.82,1322.41 Q561.82,1330.41 553.82,1330.41 L270.50,1330.41 Z" fill="#f090b6" fill-opacity="0.5" stroke="#f090b6" stroke-width="1.8"/>
<text x="82.11" y="1316.91" font-size="24.48" textLength="174.03" lengthAdjust="spacingAndGlyphs" fill="#141414">Chauffe-eau Ch1</text>
<path d="M270.50,1352.55 L322.44,1352.55 Q330.44,1352.55 330.44,1360.55 L330.44,1384.75 Q330.44,1392.75 322.44,1392.75 L270.50,1392.75 Z" fill="#9b66ea" fill-opacity="0.5" stroke="#9b66ea" stroke-width="1.8"/>
<text x="62.28" y="1379.25" font-size="24.48" textLength="197.79" lengthAdjust="spacingAndGlyphs" fill="#141414">Eclairage Extérieur</text>
<path d="M270.50,1414.89 L285.40,1414.89 Q293.40,1414.89 293.40,1422.89 L293.40,1447.09 Q293.40,1455.09 285.40,1455.09 L270.50,1455.09 Z" fill="#956d53" fill-opacity="0.5" stroke="#956d53" stroke-width="1.8"/>
<text x="82.08" y="1441.59" font-size="24.48" textLength="178.23" lengthAdjust="spacingAndGlyphs" fill="#141414">Chauffe-eau Ch2</text>
<path d="M270.50,1477.23 L270.50,1477.23 Q273.66,1477.23 273.66,1480.39 L273.66,1514.26 Q273.66,1517.43 270.50,1517.43 L270.50,1517.43 Z" fill="#ee7a64" fill-opacity="0.5" stroke="#ee7a64" stroke-width="1.8"/>
<text x="141.86" y="1503.92" font-size="24.48" textLength="117.79" lengthAdjust="spacingAndGlyphs" fill="#141414">Sala Piliers</text>
<line x1="271.00" y1="1539.56" x2="271.00" y2="1579.76" stroke="#ebbf5f" stroke-width="1.8"/>
<text x="124.89" y="1566.26" font-size="24.48" textLength="134.88" lengthAdjust="spacingAndGlyphs" fill="#141414">Sala Plafond</text>
<text x="264.24" y="1625.00" font-size="24.48" textLength="12.51" lengthAdjust="spacingAndGlyphs" fill="#141414">0</text>
<text x="822.49" y="1625.00" font-size="24.48" textLength="12.65" lengthAdjust="spacingAndGlyphs" fill="#141414">3</text>
<text x="1381.05" y="1625.00" font-size="24.48" textLength="12.99" lengthAdjust="spacingAndGlyphs" fill="#141414">6</text>
<text x="1939.20" y="1625.00" font-size="24.48" textLength="12.92" lengthAdjust="spacingAndGlyphs" fill="#141414">9</text>
<text x="2490.95" y="1625.00" font-size="24.48" textLength="27.24" lengthAdjust="spacingAndGlyphs" fill="#141414">12</text>
<text x="3049.43" y="1625.00" font-size="24.48" textLength="26.90" lengthAdjust="spacingAndGlyphs" fill="#141414">15</text>
<text x="3091.33" y="1596.70" font-size="24.48" textLength="46.52" lengthAdjust="spacingAndGlyphs" fill="#141414">kWh</text>
<path d="M76,1828.00 C455.50,1828.00 455.50,1828.00 835,1828.00 L835,1839.00 C455.50,1839.00 455.50,1839.00 76,1839.00 Z" fill="url(#g1)" fill-opacity="0.4"/>
<path d="M76,1855.10 C455.50,1855.10 455.50,1839.00 835,1839.00 L835,2209.40 C455.50,2209.40 455.50,2225.30 76,2225.30 Z" fill="url(#g2)" fill-opacity="0.4"/>
<path d="M76,2225.20 C455.50,2225.20 455.50,2339.20 835,2339.20 L835,2340.80 C455.50,2340.80 455.50,2226.80 76,2226.80 Z" fill="url(#g3)" fill-opacity="0.4"/>
<path d="M76,2242.20 C455.50,2242.20 455.50,2209.40 835,2209.40 L835,2323.80 C455.50,2323.80 455.50,2355.40 76,2355.40 Z" fill="url(#g4)" fill-opacity="0.4"/>
<path d="M76,2355.40 C455.50,2355.40 455.50,2340.30 835,2340.30 L835,2355.80 C455.50,2355.80 455.50,2372.00 76,2372.00 Z" fill="url(#g5)" fill-opacity="0.4"/>
<path d="M865,1828.00 C1244.50,1828.00 1244.50,1828.00 1624,1828.00 L1624,1859.00 C1244.50,1859.00 1244.50,1859.00 865,1859.00 Z" fill="url(#g6)" fill-opacity="0.4"/>
<path d="M865,1859.00 C1244.50,1859.00 1244.50,1875.50 1624,1875.50 L1624,1877.00 C1244.50,1877.00 1244.50,1860.50 865,1860.50 Z" fill="url(#g7)" fill-opacity="0.4"/>
<path d="M865,1860.50 C1244.50,1860.50 1244.50,1893.00 1624,1893.00 L1624,1912.50 C1244.50,1912.50 1244.50,1880.00 865,1880.00 Z" fill="url(#g8)" fill-opacity="0.4"/>
<path d="M865,1880.00 C1244.50,1880.00 1244.50,1929.00 1624,1929.00 L1624,2095.60 C1244.50,2095.60 1244.50,2046.80 865,2046.80 Z" fill="url(#g9)" fill-opacity="0.4"/>
<path d="M865,2046.60 C1244.50,2046.60 1244.50,2111.80 1624,2111.80 L1624,2113.20 C1244.50,2113.20 1244.50,2048.00 865,2048.00 Z" fill="url(#g10)" fill-opacity="0.4"/>
<path d="M865,2047.80 C1244.50,2047.80 1244.50,2128.00 1624,2128.00 L1624,2149.80 C1244.50,2149.80 1244.50,2069.60 865,2069.60 Z" fill="url(#g11)" fill-opacity="0.4"/>
<path d="M865,2069.60 C1639.00,2069.60 1639.00,2182.00 2413,2182.00 L2413,2435.60 C1639.00,2435.60 1639.00,2323.80 865,2323.80 Z" fill="url(#g12)" fill-opacity="0.4"/>
<path d="M1654,1828.00 C2033.50,1828.00 2033.50,1828.00 2413,1828.00 L2413,1859.50 C2033.50,1859.50 2033.50,1859.00 1654,1859.00 Z" fill="url(#g13)" fill-opacity="0.4"/>
<path d="M1654,1875.50 C2033.50,1875.50 2033.50,1875.60 2413,1875.60 L2413,1876.80 C2033.50,1876.80 2033.50,1877.00 1654,1877.00 Z" fill="url(#g14)" fill-opacity="0.4"/>
<path d="M1654,1893.00 C2033.50,1893.00 2033.50,1893.00 2413,1893.00 L2413,1912.60 C2033.50,1912.60 2033.50,1912.50 1654,1912.50 Z" fill="url(#g15)" fill-opacity="0.4"/>
<path d="M1654,1929.00 C2033.50,1929.00 2033.50,1928.70 2413,1928.70 L2413,2091.50 C2033.50,2091.50 2033.50,2091.90 1654,2091.90 Z" fill="url(#g16)" fill-opacity="0.4"/>
<path d="M1654,2091.90 C2033.50,2091.90 2033.50,2107.60 2413,2107.60 L2413,2111.60 C2033.50,2111.60 2033.50,2095.60 1654,2095.60 Z" fill="url(#g17)" fill-opacity="0.4"/>
<path d="M1654,2111.80 C2033.50,2111.80 2033.50,2126.90 2413,2126.90 L2413,2128.30 C2033.50,2128.30 2033.50,2113.20 1654,2113.20 Z" fill="url(#g18)" fill-opacity="0.4"/>
<path d="M1654,2128.00 C2033.50,2128.00 2033.50,2143.90 2413,2143.90 L2413,2165.90 C2033.50,2165.90 2033.50,2149.80 1654,2149.80 Z" fill="url(#g19)" fill-opacity="0.4"/>
<rect x="46" y="1828.00" width="30" height="11.00" fill="#6ab4ac"/>
<rect x="46" y="1855.10" width="30" height="370.60" fill="#5a8dbe"/>
<rect x="46" y="2242.20" width="30" height="129.80" fill="#f19d38"/>
<rect x="835" y="1828.00" width="30" height="495.80" fill="#4498c3"/>
<rect x="835" y="2340.00" width="30" height="15.80" fill="#df6b92"/>
<rect x="1624" y="1828.00" width="30" height="31.00" fill="#4498c3"/>
<rect x="1624" y="1875.50" width="30" height="1.50" fill="#4498c3"/>
<rect x="1624" y="1893.00" width="30" height="19.50" fill="#4498c3"/>
<rect x="1624" y="1929.00" width="30" height="166.60" fill="#4498c3"/>
<rect x="1624" y="2128.00" width="30" height="21.80" fill="#4498c3"/>
<rect x="2413" y="1828.00" width="30" height="31.50" fill="#9ebaf0"/>
<rect x="2413" y="1875.60" width="30" height="1.20" fill="#956d53"/>
<rect x="2413" y="1893.00" width="30" height="19.60" fill="#f090b6"/>
<rect x="2413" y="1928.70" width="30" height="162.80" fill="#82c3b1"/>
<rect x="2413" y="2107.60" width="30" height="4.00" fill="#9b66ea"/>
<rect x="2413" y="2127.20" width="30" height="1" fill="#ee7a64" fill-opacity="0.25"/>
<rect x="2413" y="2143.90" width="30" height="22.00" fill="#4b68c9"/>
<rect x="2413" y="2182.00" width="30" height="253.60" fill="#bdbdbd"/>
<text x="86.59" y="1840.10" font-size="24.48" textLength="83.27" lengthAdjust="spacingAndGlyphs" fill="#ffffff" stroke="#ffffff" stroke-width="4.5" stroke-linejoin="round">Batterie</text>
<text x="86.59" y="1840.10" font-size="24.48" textLength="83.27" lengthAdjust="spacingAndGlyphs" fill="#141414">Batterie</text>
<text x="86.70" y="2047.70" font-size="24.48" textLength="78.71" lengthAdjust="spacingAndGlyphs" fill="#ffffff" stroke="#ffffff" stroke-width="4.5" stroke-linejoin="round">Réseau</text>
<text x="86.70" y="2047.70" font-size="24.48" textLength="78.71" lengthAdjust="spacingAndGlyphs" fill="#141414">Réseau</text>
<text x="86.50" y="2314.40" font-size="24.48" textLength="73.54" lengthAdjust="spacingAndGlyphs" fill="#ffffff" stroke="#ffffff" stroke-width="4.5" stroke-linejoin="round">Solaire</text>
<text x="86.50" y="2314.40" font-size="24.48" textLength="73.54" lengthAdjust="spacingAndGlyphs" fill="#141414">Solaire</text>
<text x="875.55" y="2083.50" font-size="24.48" textLength="79.26" lengthAdjust="spacingAndGlyphs" fill="#ffffff" stroke="#ffffff" stroke-width="4.5" stroke-linejoin="round">Maison</text>
<text x="875.55" y="2083.50" font-size="24.48" textLength="79.26" lengthAdjust="spacingAndGlyphs" fill="#141414">Maison</text>
<text x="875.59" y="2355.10" font-size="24.48" textLength="83.27" lengthAdjust="spacingAndGlyphs" fill="#ffffff" stroke="#ffffff" stroke-width="4.5" stroke-linejoin="round">Batterie</text>
<text x="875.59" y="2355.10" font-size="24.48" textLength="83.27" lengthAdjust="spacingAndGlyphs" fill="#141414">Batterie</text>
<text x="1664.86" y="1851.00" font-size="24.48" textLength="158.29" lengthAdjust="spacingAndGlyphs" fill="#ffffff" stroke="#ffffff" stroke-width="4.5" stroke-linejoin="round">Chambre Filles</text>
<text x="1664.86" y="1851.00" font-size="24.48" textLength="158.29" lengthAdjust="spacingAndGlyphs" fill="#141414">Chambre Filles</text>
<text x="1664.76" y="1879.70" font-size="15.30" textLength="88.25" lengthAdjust="spacingAndGlyphs" fill="#ffffff" stroke="#ffffff" stroke-width="3.5" stroke-linejoin="round">Chambre Luc</text>
<text x="1664.76" y="1879.70" font-size="15.30" textLength="88.25" lengthAdjust="spacingAndGlyphs" fill="#141414">Chambre Luc</text>
<text x="1664.86" y="1910.15" font-size="24.48" textLength="96.87" lengthAdjust="spacingAndGlyphs" fill="#ffffff" stroke="#ffffff" stroke-width="4.5" stroke-linejoin="round">Chambre</text>
<text x="1664.86" y="1910.15" font-size="24.48" textLength="96.87" lengthAdjust="spacingAndGlyphs" fill="#141414">Chambre</text>
<text x="1664.65" y="2019.20" font-size="24.48" textLength="75.56" lengthAdjust="spacingAndGlyphs" fill="#ffffff" stroke="#ffffff" stroke-width="4.5" stroke-linejoin="round">Dehors</text>
<text x="1664.65" y="2019.20" font-size="24.48" textLength="75.56" lengthAdjust="spacingAndGlyphs" fill="#141414">Dehors</text>
<text x="1664.57" y="2115.90" font-size="14.38" textLength="26.41" lengthAdjust="spacingAndGlyphs" fill="#ffffff" stroke="#ffffff" stroke-width="3.5" stroke-linejoin="round">Sala</text>
<text x="1664.57" y="2115.90" font-size="14.38" textLength="26.41" lengthAdjust="spacingAndGlyphs" fill="#141414">Sala</text>
<text x="1664.66" y="2146.20" font-size="24.48" textLength="74.94" lengthAdjust="spacingAndGlyphs" fill="#ffffff" stroke="#ffffff" stroke-width="4.5" stroke-linejoin="round">Bureau</text>
<text x="1664.66" y="2146.20" font-size="24.48" textLength="74.94" lengthAdjust="spacingAndGlyphs" fill="#141414">Bureau</text>
<text x="2453.87" y="1850.75" font-size="24.48" textLength="177.38" lengthAdjust="spacingAndGlyphs" fill="#ffffff" stroke="#ffffff" stroke-width="4.5" stroke-linejoin="round">Chauffe-eau Ch3</text>
<text x="2453.87" y="1850.75" font-size="24.48" textLength="177.38" lengthAdjust="spacingAndGlyphs" fill="#141414">Chauffe-eau Ch3</text>
<text x="2453.77" y="1879.60" font-size="15.30" textLength="111.38" lengthAdjust="spacingAndGlyphs" fill="#ffffff" stroke="#ffffff" stroke-width="3.5" stroke-linejoin="round">Chauffe-eau Ch2</text>
<text x="2453.77" y="1879.60" font-size="15.30" textLength="111.38" lengthAdjust="spacingAndGlyphs" fill="#141414">Chauffe-eau Ch2</text>
<text x="2453.89" y="1909.80" font-size="24.48" textLength="174.03" lengthAdjust="spacingAndGlyphs" fill="#ffffff" stroke="#ffffff" stroke-width="4.5" stroke-linejoin="round">Chauffe-eau Ch1</text>
<text x="2453.89" y="1909.80" font-size="24.48" textLength="174.03" lengthAdjust="spacingAndGlyphs" fill="#141414">Chauffe-eau Ch1</text>
<text x="2453.61" y="2016.90" font-size="24.48" textLength="47.91" lengthAdjust="spacingAndGlyphs" fill="#ffffff" stroke="#ffffff" stroke-width="4.5" stroke-linejoin="round">Pool</text>
<text x="2453.61" y="2016.90" font-size="24.48" textLength="47.91" lengthAdjust="spacingAndGlyphs" fill="#141414">Pool</text>
<text x="2453.63" y="2113.80" font-size="17.65" textLength="142.66" lengthAdjust="spacingAndGlyphs" fill="#ffffff" stroke="#ffffff" stroke-width="3.5" stroke-linejoin="round">Eclairage Extérieur</text>
<text x="2453.63" y="2113.80" font-size="17.65" textLength="142.66" lengthAdjust="spacingAndGlyphs" fill="#141414">Eclairage Extérieur</text>
<text x="2453.54" y="2131.70" font-size="14.08" textLength="67.68" lengthAdjust="spacingAndGlyphs" fill="#ffffff" stroke="#ffffff" stroke-width="3.5" stroke-linejoin="round">Sala Piliers</text>
<text x="2453.54" y="2131.70" font-size="14.08" textLength="67.68" lengthAdjust="spacingAndGlyphs" fill="#141414">Sala Piliers</text>
<text x="2453.46" y="2161.70" font-size="24.48" textLength="126.02" lengthAdjust="spacingAndGlyphs" fill="#ffffff" stroke="#ffffff" stroke-width="4.5" stroke-linejoin="round">UPS Bureau</text>
<text x="2453.46" y="2161.70" font-size="24.48" textLength="126.02" lengthAdjust="spacingAndGlyphs" fill="#141414">UPS Bureau</text>
<text x="2453.83" y="2316.10" font-size="24.48" textLength="278.08" lengthAdjust="spacingAndGlyphs" fill="#ffffff" stroke="#ffffff" stroke-width="4.5" stroke-linejoin="round">Consommation non suivie</text>
<text x="2453.83" y="2316.10" font-size="24.48" textLength="278.08" lengthAdjust="spacingAndGlyphs" fill="#141414">Consommation non suivie</text>
</svg></body></html>
